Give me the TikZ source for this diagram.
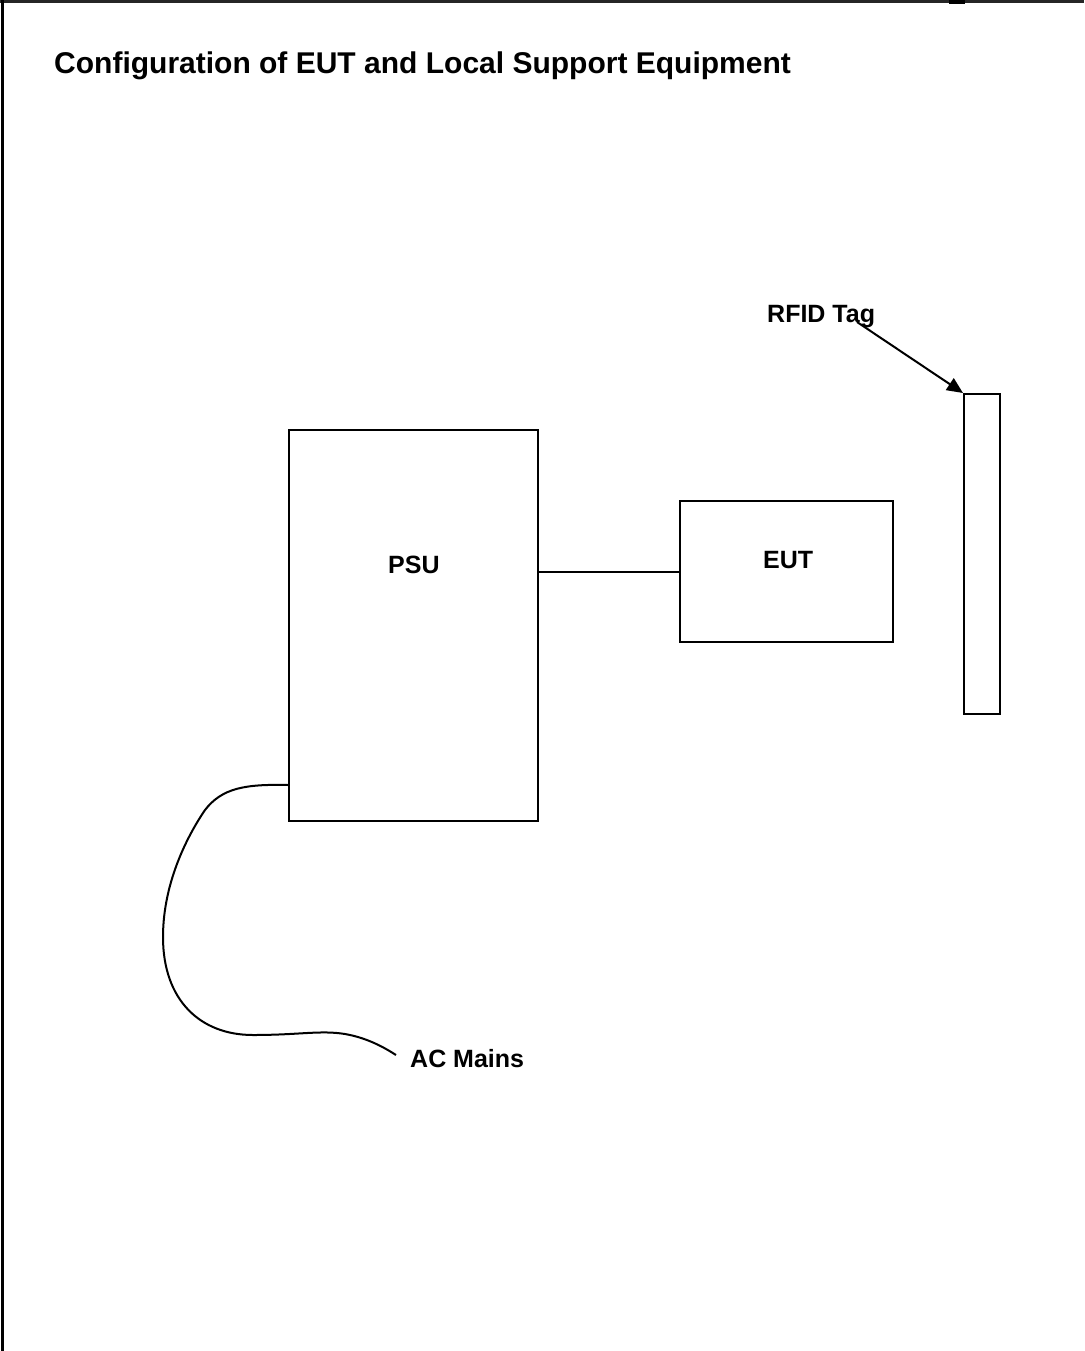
\documentclass[tikz,border=0pt]{standalone}
\usepackage{fontspec}
\setmainfont{Liberation Sans}
\usetikzlibrary{arrows.meta}
\begin{document}
\begin{tikzpicture}[x=1pt,y=-1pt,
  box/.style={draw=black,line width=2pt,inner sep=0pt},
  lbl/.style={font=\bfseries\fontsize{25}{28}\selectfont,inner sep=0pt,anchor=base west},
  wire/.style={draw=black,line width=2pt}]
\useasboundingbox (0,0) rectangle (1084,1351);
% frame
\draw[line width=3pt,black!85] (0,2) -- (1084,2);
\fill[black] (949,0) rectangle (965,4);
\draw[line width=3pt] (2,0) -- (2,1351);
% title
\node[lbl,font=\bfseries\fontsize{30}{33}\selectfont] (title) at (54,74) {Configuration of EUT and Local Support Equipment};
% boxes
\node[box,minimum width=249pt,minimum height=391pt] (psu) at (413.5,625.5) {};
\node[box,minimum width=213pt,minimum height=141pt] (eut) at (786.5,571.5) {};
\node[box,minimum width=36pt,minimum height=320pt] (tag) at (982,554) {};
% labels
\node[lbl] (psul) at (388,573) {PSU};
\node[lbl] (eutl) at (763,568) {EUT};
\node[lbl] (rfid) at (767,322) {RFID Tag};
\node[lbl] (ac) at (410,1067) {AC Mains};
% connectors
\draw[wire] (psu.east |- 0,572) -- (eut.west |- 0,572);
\coordinate (arrs) at (857,322);
\draw[line width=2pt,-{Triangle[length=16pt,width=14pt]}] (arrs) -- (tag.north west);
\coordinate (psuc) at (psu.west |- 0,785);
\coordinate (acend) at (396,1055);
\draw[line width=2pt] (psuc) .. controls (245,784) and (222,788) .. (205,810)
  .. controls (190,832) and (163,880) .. (163,937)
  .. controls (163,1000) and (200,1035) .. (253,1035)
  .. controls (300,1035) and (320,1030) .. (345,1034)
  .. controls (368,1038) and (385,1048) .. (acend);
\end{tikzpicture}
\end{document}
